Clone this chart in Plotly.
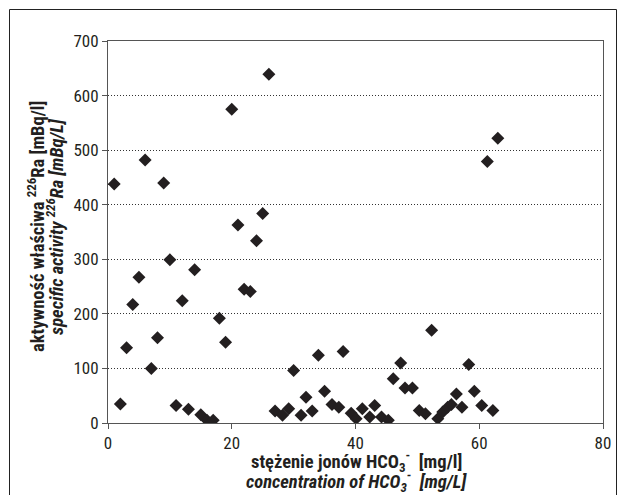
import plotly.graph_objects as go

# HCO3- concentration [mg/l]
hco3 = [1, 2, 3, 4, 5, 6, 7, 8, 9, 10,
        11, 12, 13, 14, 15, 16, 17, 18, 19, 20,
        21, 22, 23, 24, 25, 26, 27, 28.2, 29.2, 30,
        31.2, 32, 33, 34, 35, 36.2, 37.3, 38, 39.3, 40.1,
        41.1, 42.3, 43.1, 44.2, 45.3, 46.1, 47.3, 48, 49.2, 50.3,
        51.3, 52.3, 53.3, 54.1, 54.9, 55.5, 56.3, 57.2, 58.3, 59.2,
        60.4, 61.3, 62.2, 63]
# specific activity 226Ra [mBq/l]
ra226 = [438, 35, 138, 217, 267, 482, 100, 156, 440, 299,
         32, 224, 25, 281, 15, 5, 5, 192, 148, 575,
         363, 245, 241, 334, 384, 639, 22, 14, 26, 96,
         14, 47, 22, 124, 58, 34, 29, 131, 18, 8,
         26, 11, 32, 11, 5, 81, 110, 64, 64, 23,
         17, 170, 8, 20, 29, 34, 53, 29, 107, 58,
         32, 479, 23, 522]

x_ticks = [0, 20, 40, 60, 80]
y_ticks = [0, 100, 200, 300, 400, 500, 600, 700]

FONT = "Liberation Sans Narrow, Arial Narrow, Roboto Condensed, DejaVu Sans Condensed, sans-serif"
INK = "#231f20"

# page has an 8px body margin: figure coordinates = page coordinates - 8
OFF = 8
W, H = 626 - OFF, 495 - OFF
L, T = 108 - OFF, 41 - OFF
R = W - (603 - OFF)
B = H - (423 - OFF)
pw, ph = W - L - R, H - T - B


def px_x(p):  # page pixel -> paper x
    return (p - OFF - L) / pw


def px_y(p):  # page pixel -> paper y
    return (H - B - (p - OFF)) / ph


fig = go.Figure()
fig.add_trace(go.Scatter(
    x=hco3, y=ra226, mode="markers",
    marker=dict(symbol="diamond", size=10, color=INK, line=dict(width=0)),
    showlegend=False, hoverinfo="x+y"))

fig.update_layout(
    width=W, height=H,
    margin=dict(l=L, r=R, t=T, b=B, pad=0),
    paper_bgcolor="white", plot_bgcolor="white",
    font=dict(family=FONT, color=INK, size=17),
    xaxis=dict(range=[0, 80], tickvals=x_ticks, ticks="outside", ticklen=5,
               tickcolor="#555", showline=True, linecolor="#555", linewidth=1,
               mirror=True, showgrid=False, zeroline=False,
               tickfont=dict(family=FONT, size=17, color=INK)),
    yaxis=dict(range=[0, 700], tickvals=y_ticks, ticks="outside", ticklen=5,
               tickcolor="#555", showline=True, linecolor="#555", linewidth=1,
               mirror=True, showgrid=True, gridcolor="#333", griddash="1px,2px",
               gridwidth=1, zeroline=False,
               tickfont=dict(family=FONT, size=17, color=INK)),
    shapes=[dict(type="rect", xref="paper", yref="paper",
                 x0=px_x(9.5), x1=px_x(616.5), y0=px_y(520), y1=px_y(9.5),
                 line=dict(color="#222", width=1), fillcolor="rgba(0,0,0,0)",
                 layer="below")],
    annotations=[
        dict(xref="paper", yref="paper", x=px_x(36), y=px_y(227),
             textangle=-90, showarrow=False, xanchor="center", yanchor="middle",
             font=dict(family=FONT, size=18.5, color=INK),
             text="<b>aktywność właściwa <sup>226</sup>Ra [mBq/l]</b>"),
        dict(xref="paper", yref="paper", x=px_x(55), y=px_y(227),
             textangle=-90, showarrow=False, xanchor="center", yanchor="middle",
             font=dict(family=FONT, size=18.5, color=INK),
             text="<b><i>specific activity <sup>226</sup>Ra [mBq/L]</i></b>"),
        dict(xref="paper", yref="paper", x=px_x(356), y=px_y(461),
             showarrow=False, xanchor="center", yanchor="middle",
             font=dict(family=FONT, size=18.5, color=INK),
             text="<b>stężenie jonów HCO<sub>3</sub><sup>-</sup>  [mg/l]</b>"),
        dict(xref="paper", yref="paper", x=px_x(356), y=px_y(481),
             showarrow=False, xanchor="center", yanchor="middle",
             font=dict(family=FONT, size=18.5, color=INK),
             text="<b><i>concentration of HCO<sub>3</sub><sup>-</sup>  [mg/L]</i></b>"),
    ],
)

fig.write_html("out.html")
